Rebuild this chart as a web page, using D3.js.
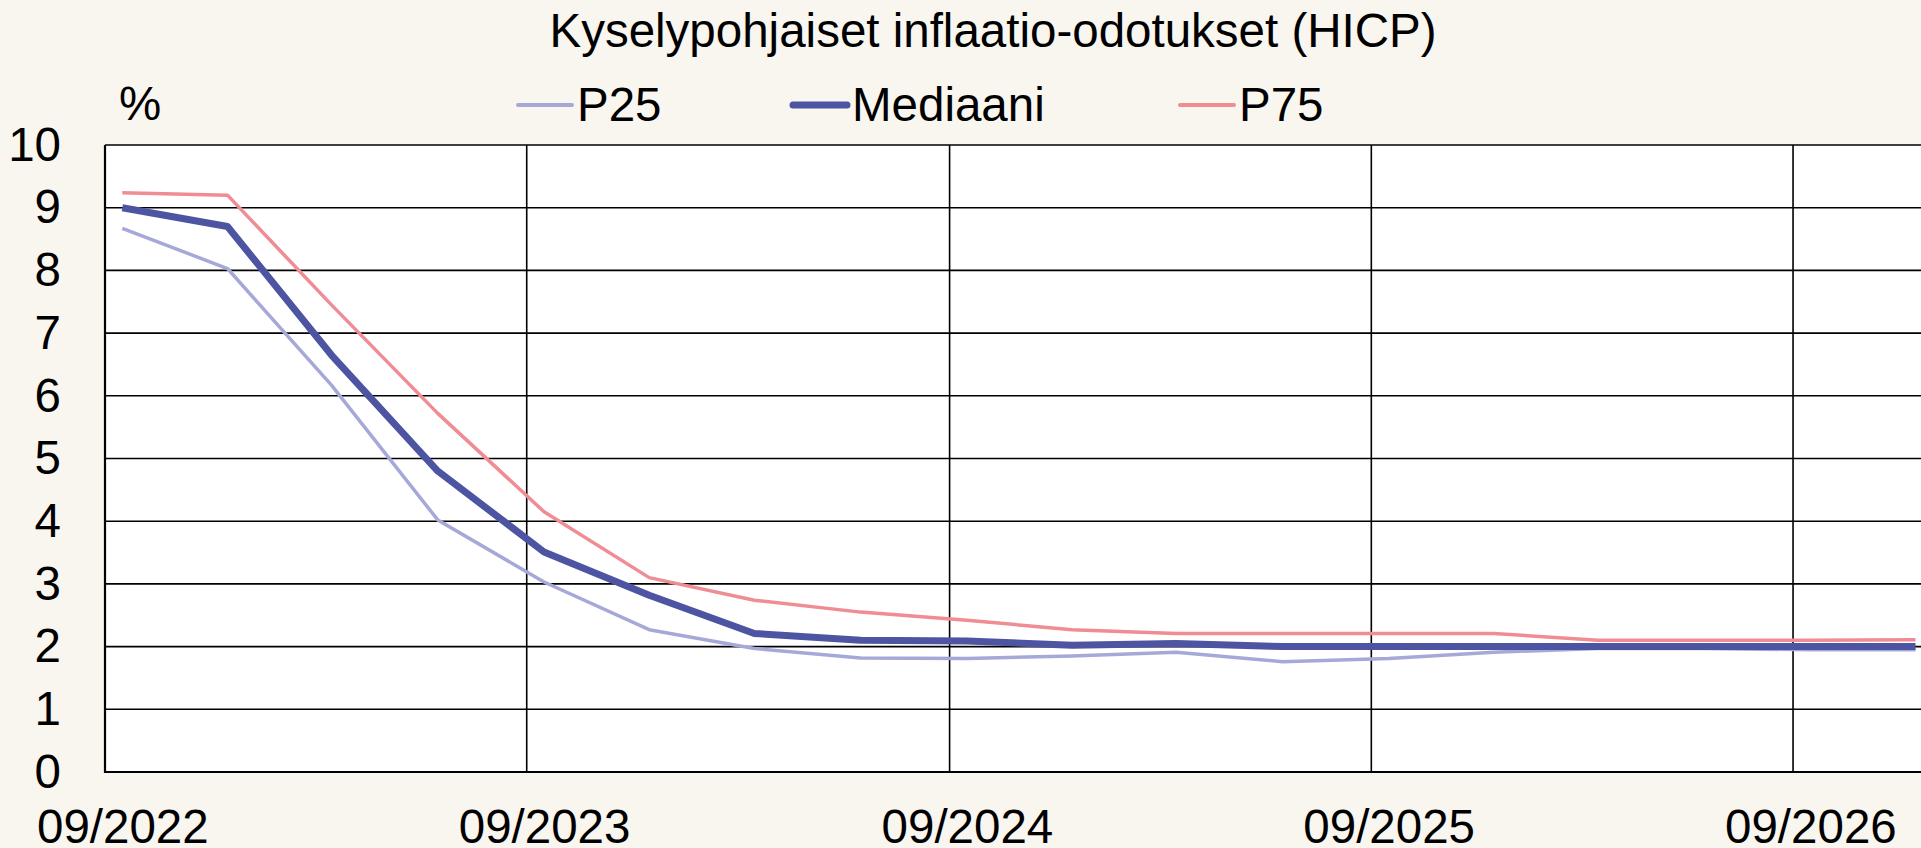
<!DOCTYPE html>
<html>
<head>
<meta charset="utf-8">
<script src="https://cdn.jsdelivr.net/npm/d3@7"></script>
<style>
  body { margin: 0; background: #F9F5EF; }
  svg { display: block; }
  text { font-family: "Liberation Sans", Arial, sans-serif; fill: #000; }
</style>
</head>
<body>
<script>
// quarterly survey rounds, month/year
let months = ["09/2022", "12/2022", "03/2023", "06/2023", "09/2023", "12/2023", "03/2024", "06/2024",
  "09/2024", "12/2024", "03/2025", "06/2025", "09/2025", "12/2025", "03/2026", "06/2026", "09/2026", "12/2026"];
let p25 = [8.67, 8.03, 6.17, 4.02, 3.03, 2.27, 1.97, 1.82, 1.81, 1.85, 1.91, 1.76, 1.81, 1.91, 1.97, 1.97, 1.95, 1.95];
let median = [9.0, 8.70, 6.65, 4.80, 3.51, 2.82, 2.21, 2.10, 2.09, 2.02, 2.05, 2.0, 2.0, 2.0, 2.0, 2.0, 2.0, 2.0];
let p75 = [9.24, 9.20, 7.45, 5.72, 4.15, 3.10, 2.74, 2.55, 2.42, 2.27, 2.21, 2.21, 2.21, 2.21, 2.10, 2.10, 2.10, 2.11];
let xTickLabels = ["09/2022", "09/2023", "09/2024", "09/2025", "09/2026"];
let yTicks = [0, 1, 2, 3, 4, 5, 6, 7, 8, 9, 10];

let series = [
  { name: "P25", values: p25, color: "#A6A9D8", width: 3.5, legendX: 518 },
  { name: "Mediaani", values: median, color: "#4D55A3", width: 7, legendX: 793 },
  { name: "P75", values: p75, color: "#F08C93", width: 3.5, legendX: 1180 }
];

var width = 1921, height = 848;
var fontSize = "47.5px";
var parseMonth = d3.timeParse("%m/%Y");
// Excel date axis: each point sits in the middle of its month
var mid = function (s) { return d3.timeDay.offset(parseMonth(s), 15); };

var x = d3.scaleTime()
  .domain([parseMonth("09/2022"), parseMonth("01/2027")])
  .range([105, 1934]);

var y = d3.scaleLinear()
  .domain([0, 10])
  .range([772, 145]);

var svg = d3.select("body").append("svg")
  .attr("width", width)
  .attr("height", height);

svg.append("rect")
  .attr("x", x.range()[0]).attr("y", y(10))
  .attr("width", width - x.range()[0]).attr("height", y(0) - y(10))
  .attr("fill", "#fff");

// horizontal grid
svg.append("g").selectAll("line")
  .data(yTicks.filter(d => d > 0))
  .enter().append("line")
  .attr("x1", x.range()[0]).attr("x2", width)
  .attr("y1", d => y(d)).attr("y2", d => y(d))
  .attr("stroke", "#000").attr("stroke-width", 1.6);

// vertical grid at the start of each September
svg.append("g").selectAll("line")
  .data(xTickLabels.slice(1))
  .enter().append("line")
  .attr("x1", d => x(parseMonth(d))).attr("x2", d => x(parseMonth(d)))
  .attr("y1", y(10)).attr("y2", y(0))
  .attr("stroke", "#000").attr("stroke-width", 1.6);

var line = d3.line()
  .x((d, i) => x(mid(months[i])))
  .y(d => y(d));

svg.append("g").selectAll("path")
  .data(series)
  .enter().append("path")
  .attr("d", d => line(d.values))
  .attr("fill", "none")
  .attr("stroke", d => d.color)
  .attr("stroke-width", d => d.width)
  .attr("stroke-linejoin", "round");

// axes
var xAxis = d3.axisBottom(x)
  .tickValues(xTickLabels.map(mid))
  .tickFormat(d3.timeFormat("%m/%Y"))
  .tickSize(0)
  .tickPadding(37);

var gx = svg.append("g")
  .attr("transform", "translate(0," + y(0) + ")")
  .call(xAxis);
gx.select(".domain").remove();
gx.selectAll("text").style("font-size", fontSize).style("font-family", null);

var yAxis = d3.axisLeft(y)
  .tickValues(yTicks)
  .tickSize(0)
  .tickPadding(44);

var gy = svg.append("g")
  .attr("transform", "translate(" + x.range()[0] + ",0)")
  .call(yAxis);
gy.select(".domain").remove();
gy.selectAll("text").style("font-size", fontSize).style("font-family", null);

svg.append("line")
  .attr("x1", x.range()[0]).attr("x2", x.range()[0])
  .attr("y1", y(10)).attr("y2", y(0) + 1)
  .attr("stroke", "#000").attr("stroke-width", 2.2);
svg.append("line")
  .attr("x1", x.range()[0]).attr("x2", width)
  .attr("y1", y(0)).attr("y2", y(0))
  .attr("stroke", "#000").attr("stroke-width", 2.2);

// title, unit, legend
svg.append("text")
  .attr("x", 993).attr("y", 47)
  .attr("text-anchor", "middle")
  .style("font-size", fontSize)
  .text("Kyselypohjaiset inflaatio-odotukset (HICP)");

svg.append("text")
  .attr("x", 119).attr("y", 120)
  .style("font-size", fontSize)
  .text("%");

var legend = svg.append("g").selectAll("g")
  .data(series)
  .enter().append("g")
  .attr("transform", d => "translate(" + d.legendX + ",105)");

legend.append("line")
  .attr("x1", 0).attr("x2", 54)
  .attr("stroke", d => d.color)
  .attr("stroke-width", d => d.name == "Mediaani" ? 7 : 4)
  .attr("stroke-linecap", "round");

legend.append("text")
  .attr("x", 59).attr("y", 16)
  .style("font-size", fontSize)
  .text(d => d.name);
</script>
</body>
</html>
